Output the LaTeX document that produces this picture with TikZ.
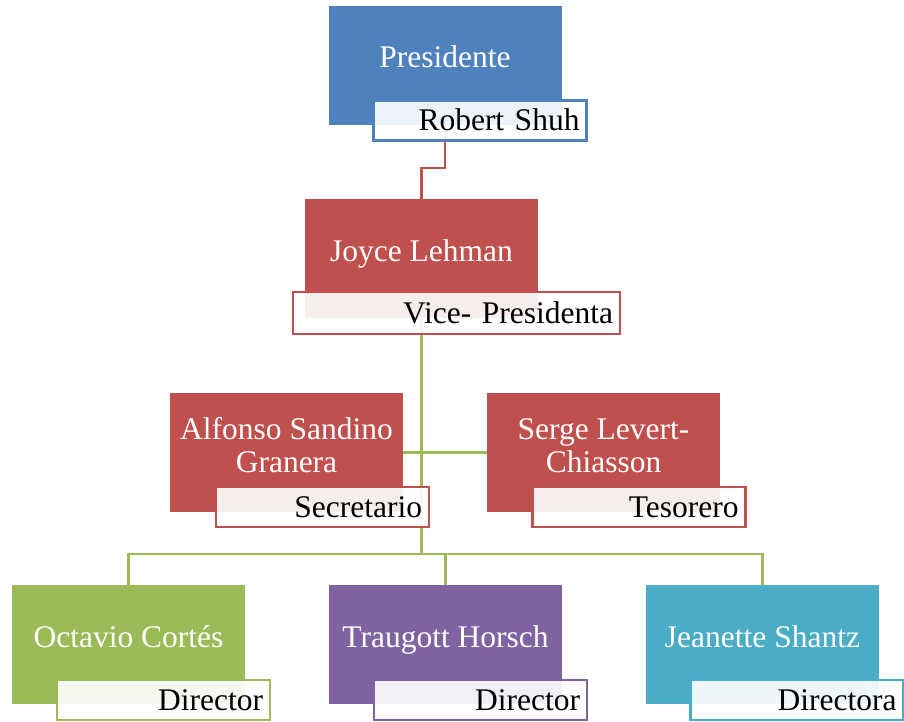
\documentclass[tikz,border=0pt]{standalone}
\usepackage{fontspec}
\setmainfont{Liberation Serif}

\definecolor{cblue}{HTML}{4F81BD}
\definecolor{cred}{HTML}{C0504D}
\definecolor{cgreen}{HTML}{9BBB59}
\definecolor{cpurple}{HTML}{8064A2}
\definecolor{cteal}{HTML}{4BACC6}

\tikzset{
  unit/.style={rectangle, fill=#1, minimum width=233pt, minimum height=119pt, inner sep=0pt},
  tag/.style={rectangle, draw=#1, line width=2.2pt, fill=white, fill opacity=0.9, text opacity=1,
    inner xsep=7pt, inner ysep=0pt, text width=199pt, minimum height=40pt,
    text height=24pt, text depth=4pt, align=right},
  who/.style={text=white, anchor=base, align=center},
  link/.style={line width=2.5pt},
}

\begin{document}
\begin{tikzpicture}[x=1pt, y=-1pt, font=\fontsize{31.5}{33}\selectfont]
          \useasboundingbox (0,0) rectangle (904,722);

          % boxes
          \node [unit=cblue] (pres) at (445.0, 65.5) {};
          \node [unit=cred] (vp) at (421.5, 258.5) {};
          \node [unit=cred] (sec) at (286.5, 452.5) {};
          \node [unit=cred] (tes) at (603.5, 452.5) {};
          \node [unit=cgreen] (dirA) at (128.5, 644.5) {};
          \node [unit=cpurple] (dirB) at (445.5, 644.5) {};
          \node [unit=cteal] (dirC) at (762.5, 644.5) {};

          \node [who] (presN) at (445.0, 68) {Presidente};
          \node [who] (vpN) at (421.5, 261) {Joyce Lehman};
          \node [who] (secN) at (286.5, 472) {Alfonso Sandino\\Granera};
          \node [who] (tesN) at (603.5, 472) {Serge Levert-\\Chiasson};
          \node [who] (dirAN) at (128.5, 647) {Octavio Cortés};
          \node [who] (dirBN) at (445.5, 647) {Traugott Horsch};
          \node [who] (dirCN) at (762.5, 647) {Jeanette Shantz};

          % lines
          \coordinate (bus) at (421.5, 554);
          \draw [link, cred] (pres.south) -- ++(0, 43) -| (vp.north);
          \draw [link, cgreen] (vp.south) -- (bus);
          \draw [link, cgreen] (sec.east) -- (tes.west);
          \draw [link, cgreen] (dirA.north) |- (bus) -| (dirC.north);
          \draw [link, cgreen] (dirB.north) -- (dirB.north |- bus);

          % titles
          \node [tag=cblue] (presT) at (480.0, 120.5) {Robert Shuh};
          \node [tag=cred, text width=313pt, minimum height=42pt] (vpT) at (456.5, 313.0) {Vice- Presidenta};
          \node [tag=cred] (secT) at (322.5, 507.0) {Secretario};
          \node [tag=cred] (tesT) at (639.0, 507.0) {Tesorero};
          \node [tag=cgreen] (dirAT) at (163.5, 700.0) {Director};
          \node [tag=cpurple] (dirBT) at (480.5, 700.0) {Director};
          \node [tag=cteal] (dirCT) at (797.0, 700.0) {Directora};
        \end{tikzpicture}
\end{document}
